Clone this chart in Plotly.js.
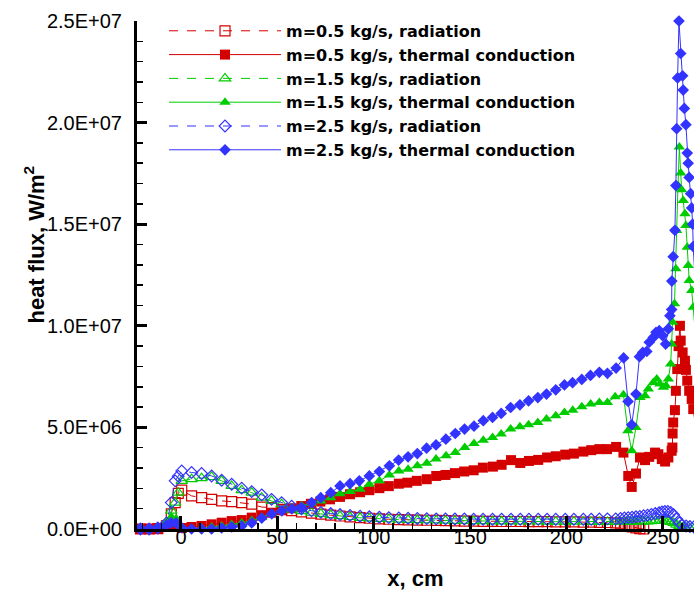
<!DOCTYPE html>
<html>
<head>
<meta charset="utf-8">
<script src="https://cdn.plot.ly/plotly-3.0.1.min.js"></script>
<style>html,body{margin:0;padding:0;background:#fff;}#chart{width:694px;height:592px;}</style>
</head>
<body>
<div id="chart"></div>
<script>
// ---------- DATA (values in W/m^2 * 1e6, x in cm) ----------
var seriesNames = [
  "m=0.5 kg/s, radiation",
  "m=0.5 kg/s, thermal conduction",
  "m=1.5 kg/s, radiation",
  "m=1.5 kg/s, thermal conduction",
  "m=2.5 kg/s, radiation",
  "m=2.5 kg/s, thermal conduction"
];

// radiation x grid
var xRad = [-21,-16.5,-12,-7.5,-5,-3,-1.4,0.4,5.5,10.7,15.9,21.1,26.3,31.5,36.7,41.9,47,52.2,
  57.4,62.5,67.7,72.6,77.7,82.5,87.7,92.9,97.7,102.9,107.8,113,117.8,122.6,127.5,132.4,137.2,142.1,147,151.8,
  156.7,161.6,166.3,171.2,176,180.5,185.3,189.9,194.4,199.3,203.8,208.7,212.8,217,221.2,225.5,
  228,230,232,234,236,238,240,242,244,246,248,249.5,251,252.5,254,255.5,257,258.5,260,262,264,266];

var radM05 = [0,0,0.02,0.15,0.74,1.3,1.75,1.91,1.63,1.54,1.46,1.38,1.35,1.30,1.22,1.08,1.05,0.97,
  0.9,0.84,0.78,0.73,0.68,0.64,0.6,0.56,0.53,0.5,0.48,0.46,0.45,0.44,0.43,0.42,0.41,0.4,0.39,0.39,
  0.38,0.38,0.37,0.37,0.37,0.36,0.36,0.36,0.35,0.35,0.35,0.34,0.34,0.33,0.32,0.3,
  0.25,0.2,0.15,0.1,0.05,0.02,0.0,-0.03,-0.05,-0.08,-0.1,-0.12,-0.13,-0.14,-0.15,-0.15,-0.14,-0.12,-0.1,-0.08,-0.06,-0.05];

var radM15 = [0,0,0.05,0.3,0.9,1.3,1.79,2.37,2.45,2.50,2.56,2.37,2.12,1.91,1.79,1.54,1.38,1.22,
  0.97,0.88,0.8,0.74,0.68,0.63,0.59,0.55,0.52,0.5,0.48,0.46,0.45,0.44,0.43,0.42,0.41,0.4,0.4,0.39,
  0.39,0.38,0.38,0.38,0.37,0.37,0.37,0.36,0.36,0.36,0.36,0.36,0.35,0.35,0.35,0.35,
  0.35,0.35,0.36,0.36,0.37,0.37,0.38,0.38,0.39,0.4,0.4,0.4,0.4,0.38,0.35,0.3,0.22,0.15,0.08,0.04,0.02,0.0];

var radM25 = [0,0,0.05,0.3,1.30,2.37,2.6,2.86,2.78,2.73,2.61,2.40,2.20,2.01,1.84,1.68,1.46,1.30,
  1.12,1.0,0.9,0.82,0.76,0.71,0.67,0.63,0.6,0.58,0.56,0.54,0.53,0.52,0.51,0.5,0.5,0.49,0.49,0.48,
  0.48,0.48,0.48,0.48,0.48,0.48,0.48,0.48,0.48,0.48,0.48,0.48,0.48,0.49,0.5,0.5,
  0.52,0.54,0.56,0.58,0.6,0.62,0.65,0.68,0.72,0.76,0.8,0.84,0.86,0.86,0.82,0.7,0.5,0.3,0.2,0.15,0.12,0.1];

// thermal conduction, m=0.5
var xCondM05 = [-21,-16.5,-12,-7.5,-5,-2.5,0.5,5.5,10.7,15.9,21.1,26.3,31.5,36.7,41.9,47,52.2,57.4,62.4,67.4,72.3,
  77.3,82.5,87.7,92.9,97.7,102.9,107.8,113,117.4,122.3,127.5,132.4,137.2,142.1,146.9,151.8,156.6,161.8,166.3,171.2,
  176,180.5,185.3,189.9,194.4,199.3,203.8,208.7,212.8,217,221,225.7,
  229.5,232,233.8,236,238.1,240.7,242.9,245.9,247.6,249.4,251.1,252.8,254.5,254.9,255.0,255.3,256.2,256.7,257.4,258.1,258.8,
  259.2,260.2,261.4,261.9,262.6,263.6,264.9,265.7,266.6];
var condM05 = [0,0,0,0.1,0.2,0.15,0.05,0.1,0.15,0.23,0.31,0.39,0.44,0.56,0.68,0.80,0.92,1.02,1.13,1.24,1.35,
  1.46,1.58,1.71,1.81,1.91,2.01,2.11,2.23,2.28,2.37,2.45,2.61,2.66,2.75,2.83,2.89,3.02,3.07,3.16,3.39,
  3.25,3.35,3.40,3.52,3.58,3.66,3.71,3.81,3.88,3.93,3.93,4.04,
  3.76,2.61,2.07,2.73,3.52,3.39,3.55,3.76,3.68,3.44,3.32,3.52,3.85,4.01,4.70,5.24,5.85,6.80,7.87,9.0,10.0,
  9.27,8.69,8.28,7.83,7.30,6.80,6.40,5.90,5.3];

// thermal conduction, m=1.5
var xCondM15 = [-21,-16.5,-12,-7.5,-5,-2.5,0.5,5.5,10.7,15.9,21.1,26.3,31.5,36.7,41.9,47.1,52.3,57.5,62.6,67.6,72.5,
  77.7,82.5,87.7,92.9,97.7,102.9,108.1,113,117.8,122.6,127.5,132.3,137.5,142.3,147.2,152,156.8,161.6,166.1,171,
  175.8,180.3,185.1,189.6,194.4,198.9,203.2,207.9,212.5,217,221.2,225.2,
  229.5,231.8,233.8,236,238.1,240.7,242.4,245,246.8,248.4,250.2,251.6,252.8,254,254.5,255,256,256.7,257.1,257.8,258.5,
  259.2,259.7,260.5,261.4,261.9,262.6,263.1,263.6,264.9,265.7,266.5];
var condM15 = [0,0,0.05,0.3,0.6,0.5,0.1,0.02,0.05,0.1,0.15,0.22,0.3,0.42,0.58,0.75,0.92,1.05,1.15,1.27,1.38,
  1.54,1.74,1.84,1.96,2.20,2.37,2.66,2.86,2.94,3.11,3.24,3.44,3.60,3.76,4.01,4.21,4.37,4.50,4.67,4.92,
  5.03,5.13,5.24,5.41,5.57,5.73,5.85,6.02,6.15,6.23,6.23,6.51,
  6.61,4.83,3.85,5.00,6.47,6.56,6.89,7.21,7.38,7.13,6.97,7.05,7.38,8.12,9.11,10.17,11.08,12.81,14.69,16.9,18.80,
  17.52,16.70,16.17,15.52,14.93,13.87,12.97,12.23,11.74,10.91,10.0];

// thermal conduction, m=2.5
var xCondM25 = [-21,-16.5,-12,-7.5,-5,-2.5,0.5,5.5,10.7,15.9,21.1,26.3,31.5,36.7,41.9,47.1,52.3,57.5,62.6,67.8,72.5,
  77.7,82.5,87.7,92.5,97.7,102.9,108.1,112.9,117.8,122.6,127.4,132.3,137.4,142.3,147.1,152,156.8,161.6,166.1,171,
  175.8,180.3,185.1,189.6,194.4,198.9,203.1,207.9,212.4,217,221.2,225.7,
  229.6,231.9,233.8,236,237.8,239.5,241.6,242.9,245,246.4,248.1,249.8,251.4,252.8,253.6,254.5,254.6,255.3,256.2,256.7,257.1,257.6,258.3,
  259.2,260.2,260.5,261.1,261.9,262.6,263.1,263.6,264.4,264.9,265.4,265.7,266.5];
var condM25 = [0,0,0.05,0.2,0.3,0.3,0.05,0,0,0,0.05,0.1,0.15,0.3,0.54,0.74,0.89,0.99,1.05,1.30,1.54,
  1.79,2.12,2.23,2.37,2.61,2.83,3.11,3.39,3.55,3.71,3.98,4.14,4.42,4.70,4.92,5.06,5.33,5.49,5.69,5.98,
  6.11,6.31,6.47,6.64,6.85,7.09,7.20,7.36,7.56,7.71,7.66,7.92,
  8.42,6.28,5.13,6.64,8.48,8.69,8.74,9.19,9.43,9.68,9.76,9.52,9.1,9.85,10.5,10.8,12.2,13.4,14.7,16.9,19.7,22.2,25.0,
  23.4,22.3,21.6,20.7,19.9,18.5,18.0,17.3,16.5,15.8,15.0,13.9,12.5];

var yTickVals = [0, 5e6, 1e7, 1.5e7, 2e7, 2.5e7];
var yTickText = ["0.0E+00","5.0E+06","1.0E+07","1.5E+07","2.0E+07","2.5E+07"];
var xTickVals = [0, 50, 100, 150, 200, 250];
var xTickText = ["0","50","100","150","200","250"];

// ---------- BUILD ----------
function scale(arr){ return arr.map(function(v){ return v*1e6; }); }
var RED = "rgb(212,0,0)", GREEN = "rgb(0,204,0)", BLUE = "rgb(51,51,255)";

function tr(name, xs, ys, color, symbol, dash, size, open){
  return {
    type: "scatter", mode: "lines+markers", name: name,
    x: xs, y: scale(ys), cliponaxis: false,
    line: {color: color, width: 1, dash: dash},
    marker: {symbol: symbol, size: size, color: color,
             line: {color: color, width: open ? 1.2 : 0}}
  };
}

var data = [
  tr(seriesNames[0], xRad, radM05, RED, "square-open", "dash", 10, true),
  tr(seriesNames[1], xCondM05, condM05, RED, "square", "solid", 10, false),
  tr(seriesNames[2], xRad, radM15, GREEN, "triangle-up-open", "dash", 10, true),
  tr(seriesNames[3], xCondM15, condM15, GREEN, "triangle-up", "solid", 10, false),
  tr(seriesNames[4], xRad, radM25, BLUE, "diamond-open", "dash", 9, true),
  tr(seriesNames[5], xCondM25, condM25, BLUE, "diamond", "solid", 9, false)
];

var tickFont = {family: "Liberation Sans, Arial, sans-serif", size: 20, color: "#000"};

var layout = {
  width: 694, height: 592,
  margin: {l: 137, r: 0, t: 21, b: 63},
  paper_bgcolor: "#fff", plot_bgcolor: "#fff",
  showlegend: true,
  legend: {
    x: 0.0485, y: 1.014, xanchor: "left", yanchor: "top",
    bgcolor: "rgba(0,0,0,0)", borderwidth: 0, itemwidth: 112,
    font: {family: "DejaVu Sans, sans-serif", size: 16, color: "#000", weight: "bold"},
    tracegroupgap: 0
  },
  xaxis: {
    range: [-22.8, 266.1], showgrid: false, zeroline: false,
    showline: true, linecolor: "#000", linewidth: 3,
    ticks: "inside", ticklen: 13, tickwidth: 3, tickcolor: "#000",
    tickmode: "array", tickvals: xTickVals, ticktext: xTickText,
    tickfont: tickFont, ticklabelstandoff: -12,
    minor: {tickmode: "linear", tick0: 0, dtick: 10, ticks: "inside", ticklen: 6, tickwidth: 1.5, tickcolor: "#000", showgrid: false},
    title: {text: "x, cm", standoff: 24,
      font: {family: "Liberation Sans, Arial, sans-serif", size: 22, color: "#000", weight: "bold"}}
  },
  yaxis: {
    range: [0, 2.5e7], showgrid: false, zeroline: false,
    showline: true, linecolor: "#000", linewidth: 3,
    ticks: "inside", ticklen: 10, tickwidth: 3, tickcolor: "#000",
    tickmode: "array", tickvals: yTickVals, ticktext: yTickText,
    tickfont: tickFont, ticklabelstandoff: 8,
    minor: {tickmode: "linear", tick0: 0, dtick: 1e6, ticks: "inside", ticklen: 6, tickwidth: 1.5, tickcolor: "#000", showgrid: false}
  },
  annotations: [{
    text: "heat flux, W/m<sup>2</sup>", textangle: -90, showarrow: false,
    xref: "paper", yref: "paper", x: -0.184, y: 0.559, xanchor: "center", yanchor: "middle",
    font: {family: "Liberation Sans, Arial, sans-serif", size: 22, color: "#000", weight: "bold"}
  }]
};

Plotly.newPlot("chart", data, layout, {staticPlot: true, displayModeBar: false});
</script>
</body>
</html>
